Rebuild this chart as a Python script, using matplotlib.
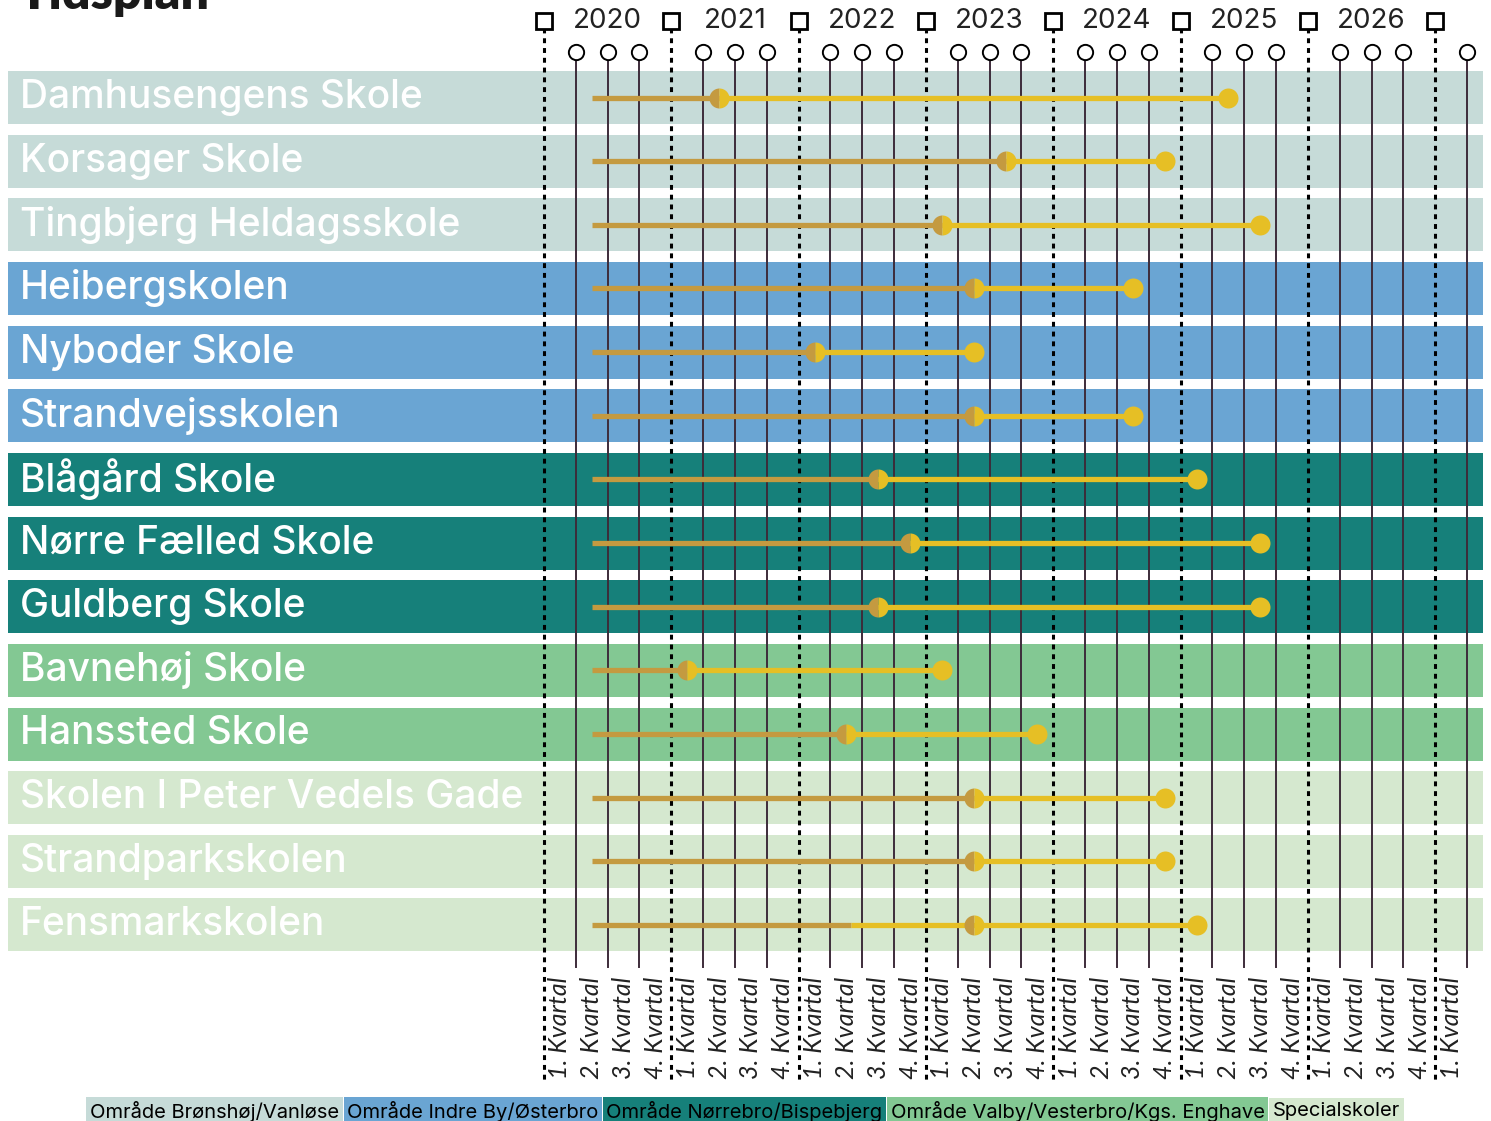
import matplotlib.pyplot as plt
import numpy as np

plt.rcParams['font.family'] = ['Inter', 'DejaVu Sans']

# quarters counted from 2020 Q1 = 0
schools = ["Damhusengens Skole", "Korsager Skole", "Tingbjerg Heldagsskole",
           "Heibergskolen", "Nyboder Skole", "Strandvejsskolen",
           "Blågård Skole", "Nørre Fælled Skole", "Guldberg Skole",
           "Bavnehøj Skole", "Hanssted Skole", "Skolen I Peter Vedels Gade",
           "Strandparkskolen", "Fensmarkskolen"]
area = [0, 0, 0, 1, 1, 1, 2, 2, 2, 3, 3, 4, 4, 4]
start = [1.5] * 14
phase1_end = [5.5, 14.5, 12.5, 13.5, 8.5, 13.5, 10.5, 11.5, 10.5, 4.5, 9.5, 13.5, 13.5, 9.65]
milestone = [5.5, 14.5, 12.5, 13.5, 8.5, 13.5, 10.5, 11.5, 10.5, 4.5, 9.5, 13.5, 13.5, 13.5]
finish = [21.5, 19.5, 22.5, 18.5, 13.5, 18.5, 20.5, 22.5, 22.5, 12.5, 15.5, 19.5, 19.5, 20.5]

years = [2020, 2021, 2022, 2023, 2024, 2025, 2026]
n_quarters = 29
quarter_labels = [f"{q % 4 + 1}. Kvartal" for q in range(n_quarters)]

area_names = ["Område Brønshøj/Vanløse", "Område Indre By/Østerbro",
              "Område Nørrebro/Bispebjerg", "Område Valby/Vesterbro/Kgs. Enghave",
              "Specialskoler"]
area_colors = ["#c6dbd8", "#6aa5d3", "#16807a", "#83c893", "#d5e8cf"]

brown = "#c49a40"
yellow = "#e6bf25"
qline = "#3d2c3a"

W, H = 1491, 1121
fig = plt.figure(figsize=(W / 100, H / 100), dpi=100)
ax = fig.add_axes([0, 0, 1, 1])
px_q = 31.83
x0 = 544
py_row = 63.65
y0 = 97.5
ax.set_xlim(-x0 / px_q, (W - x0) / px_q)
ax.set_ylim((H - y0) / py_row, -y0 / py_row)
ax.axis('off')


def ry(py):
    return (py - y0) / py_row


def qx(px):
    return (px - x0) / px_q


rows = np.arange(len(schools))

# bands
ax.barh(rows, qx(1483) - qx(8), left=qx(8), height=53 / py_row,
        color=[area_colors[a] for a in area], zorder=1)
for i, s in enumerate(schools):
    ax.text(qx(20), i, s, color="white", fontsize=28, fontweight='medium',
            va='center', ha='left', zorder=5)

# grid lines
for q in range(n_quarters + 1):
    if q % 4 == 0:
        ax.plot([q, q], [ry(28), ry(1083)], color="black", lw=2.2,
                ls=(0, (1.6, 1.6)), zorder=2)
        ax.plot(q, ry(21), marker='s', ms=12, mfc='white', mec='black', mew=2, zorder=6)
    else:
        ax.plot([q, q], [ry(52), ry(967)], color=qline, lw=1.4, zorder=2)
        ax.plot(q, ry(52), marker='o', ms=11, mfc='white', mec='black', mew=1.4, zorder=6)

for k, yr in enumerate(years):
    ax.text(4 * k + 2, ry(21), str(yr), fontsize=20, color="#222222",
            ha='center', va='center')

for q, lab in enumerate(quarter_labels):
    ax.text(q + 0.5, ry(977), lab, rotation=90, fontsize=18, style='italic',
            family=['Lato', 'DejaVu Sans'],
            color="#222222", ha='center', va='top')

# timelines
for i in rows:
    ax.plot([start[i], phase1_end[i]], [i, i], color=brown, lw=3.8,
            solid_capstyle='butt', zorder=3)
    ax.plot([phase1_end[i], finish[i]], [i, i], color=yellow, lw=3.8,
            solid_capstyle='butt', zorder=3)
    ax.plot(milestone[i], i, marker='o', ms=14.4, fillstyle='left',
            mfc=brown, mfcalt=yellow, mew=0, zorder=4)
    ax.plot(finish[i], i, marker='o', ms=14.4, mfc=yellow, mew=0, zorder=4)

# title (cut by the top edge)
fig.text(18 / W, 1 - 9 / H, "Tidsplan", fontsize=36, fontweight='heavy',
         color="#1a1a1a", ha='left', va='baseline', family=['Lato', 'DejaVu Sans'])

# legend
fig.canvas.draw()
r = fig.canvas.get_renderer()
xpos = 90
for name, col in zip(area_names, area_colors):
    t = fig.text(xpos / W, 1 - 1111 / H, name, fontsize=14.5, color="black",
                 ha='left', va='center',
                 bbox=dict(boxstyle='square,pad=0.18', fc=col, ec='none'))
    bb = t.get_window_extent(r)
    xpos = bb.x1 + 8

fig.savefig("out.png", dpi=100)
